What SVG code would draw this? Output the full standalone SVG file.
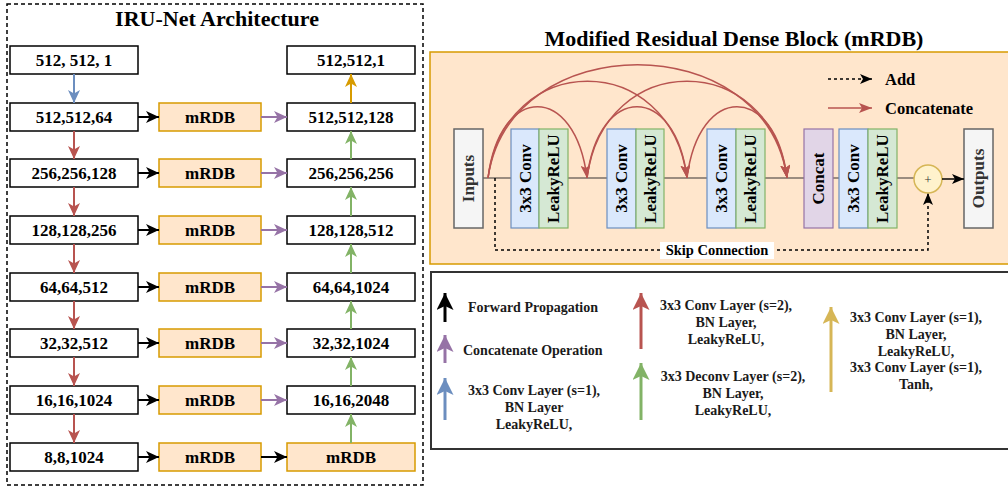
<svg xmlns="http://www.w3.org/2000/svg" width="1008" height="487" viewBox="0 0 1008 487">
  <style>
    text { font-family: "Liberation Serif", "Times New Roman", serif; font-weight: bold; fill: #000; }
    .title { font-size: 22px; text-anchor: middle; }
    .lbl { font-size: 17px; text-anchor: middle; }
    .vlbl { font-size: 17px; text-anchor: middle; dominant-baseline: central; }
    .leg { font-size: 14px; fill: #1a1a1a; }
    .legc { font-size: 14px; fill: #1a1a1a; text-anchor: middle; }
    .shape { fill: #fff; stroke: #000; stroke-width: 1.5; }
    .rdb { fill: #ffe6cc; stroke: #d79b00; stroke-width: 1.5; }
    .io { fill: #f5f5f5; stroke: #666; stroke-width: 1.5; }
    .conv { fill: #dae8fc; stroke: #6c8ebf; stroke-width: 1.2; }
    .act { fill: #d5e8d4; stroke: #82b366; stroke-width: 1.2; }
    .cat { fill: #e1d5e7; stroke: #9673a6; stroke-width: 1.2; }
    .a { fill: none; stroke-width: 2; }
    .la { fill: none; stroke-width: 3; }
    .arc { fill: none; stroke: #b85450; stroke-width: 1.5; marker-end: url(#hArc); }
  </style>
  <defs>
    <marker id="hBlue" markerUnits="userSpaceOnUse" markerWidth="13" markerHeight="12" refX="13" refY="6" orient="auto"><path d="M0,0 L13,6 L0,12 L3.5,6 Z" fill="#6c8ebf"/></marker>
    <marker id="hRed" markerUnits="userSpaceOnUse" markerWidth="13" markerHeight="12" refX="13" refY="6" orient="auto"><path d="M0,0 L13,6 L0,12 L3.5,6 Z" fill="#b85450"/></marker>
    <marker id="hBlack" markerUnits="userSpaceOnUse" markerWidth="13" markerHeight="12" refX="13" refY="6" orient="auto"><path d="M0,0 L13,6 L0,12 L3.5,6 Z" fill="#000"/></marker>
    <marker id="hPurple" markerUnits="userSpaceOnUse" markerWidth="13" markerHeight="12" refX="13" refY="6" orient="auto"><path d="M0,0 L13,6 L0,12 L3.5,6 Z" fill="#9673a6"/></marker>
    <marker id="hGreen" markerUnits="userSpaceOnUse" markerWidth="13" markerHeight="12" refX="13" refY="6" orient="auto"><path d="M0,0 L13,6 L0,12 L3.5,6 Z" fill="#82b366"/></marker>
    <marker id="hOrange" markerUnits="userSpaceOnUse" markerWidth="13" markerHeight="12" refX="13" refY="6" orient="auto"><path d="M0,0 L13,6 L0,12 L3.5,6 Z" fill="#d79b00"/></marker>
    <marker id="hArc" markerUnits="userSpaceOnUse" markerWidth="13" markerHeight="10" refX="13" refY="5" orient="auto"><path d="M0,0 L13,5 L0,10 L3,5 Z" fill="#b85450"/></marker>
    <marker id="hSmall" markerUnits="userSpaceOnUse" markerWidth="12" markerHeight="10" refX="12" refY="5" orient="auto"><path d="M0,0 L12,5 L0,10 L3,5 Z" fill="#000"/></marker>
    <marker id="lBlack" markerUnits="userSpaceOnUse" markerWidth="17" markerHeight="17" refX="17" refY="8.5" orient="auto"><path d="M0,0 L17,8.5 L0,17 L4,8.5 Z" fill="#000"/></marker>
    <marker id="lPurple" markerUnits="userSpaceOnUse" markerWidth="17" markerHeight="17" refX="17" refY="8.5" orient="auto"><path d="M0,0 L17,8.5 L0,17 L4,8.5 Z" fill="#9673a6"/></marker>
    <marker id="lBlue" markerUnits="userSpaceOnUse" markerWidth="17" markerHeight="17" refX="17" refY="8.5" orient="auto"><path d="M0,0 L17,8.5 L0,17 L4,8.5 Z" fill="#6c8ebf"/></marker>
    <marker id="lRed" markerUnits="userSpaceOnUse" markerWidth="17" markerHeight="17" refX="17" refY="8.5" orient="auto"><path d="M0,0 L17,8.5 L0,17 L4,8.5 Z" fill="#b85450"/></marker>
    <marker id="lGreen" markerUnits="userSpaceOnUse" markerWidth="17" markerHeight="17" refX="17" refY="8.5" orient="auto"><path d="M0,0 L17,8.5 L0,17 L4,8.5 Z" fill="#82b366"/></marker>
    <marker id="lYellow" markerUnits="userSpaceOnUse" markerWidth="17" markerHeight="17" refX="17" refY="8.5" orient="auto"><path d="M0,0 L17,8.5 L0,17 L4,8.5 Z" fill="#d6b656"/></marker>
  </defs>

  <rect width="1008" height="487" fill="#fff"/>

  <!-- ============ IRU-Net architecture (left panel) ============ -->
  <rect x="7" y="4" width="416" height="481" fill="none" stroke="#000" stroke-width="1.5" stroke-dasharray="4,3"/>
  <text class="title" x="217" y="26">IRU-Net Architecture</text>

  <!-- encoder column -->
  <g id="enc0"><rect class="shape" x="10" y="46" width="128" height="28"/><text class="lbl" x="74" y="66">512, 512, 1</text></g>
  <g id="enc1"><rect class="shape" x="10" y="103" width="128" height="28"/><text class="lbl" x="74" y="123">512,512,64</text></g>
  <g id="enc2"><rect class="shape" x="10" y="159" width="128" height="28"/><text class="lbl" x="74" y="179">256,256,128</text></g>
  <g id="enc3"><rect class="shape" x="10" y="216" width="128" height="28"/><text class="lbl" x="74" y="236">128,128,256</text></g>
  <g id="enc4"><rect class="shape" x="10" y="273" width="128" height="28"/><text class="lbl" x="74" y="293">64,64,512</text></g>
  <g id="enc5"><rect class="shape" x="10" y="329" width="128" height="28"/><text class="lbl" x="74" y="349">32,32,512</text></g>
  <g id="enc6"><rect class="shape" x="10" y="386" width="128" height="28"/><text class="lbl" x="74" y="406">16,16,1024</text></g>
  <g id="enc7"><rect class="shape" x="10" y="443" width="128" height="28"/><text class="lbl" x="74" y="463">8,8,1024</text></g>

  <!-- mRDB column -->
  <g id="rdb1"><rect class="rdb" x="159" y="103" width="102" height="28"/><text class="lbl" x="210" y="123">mRDB</text></g>
  <g id="rdb2"><rect class="rdb" x="159" y="159" width="102" height="28"/><text class="lbl" x="210" y="179">mRDB</text></g>
  <g id="rdb3"><rect class="rdb" x="159" y="216" width="102" height="28"/><text class="lbl" x="210" y="236">mRDB</text></g>
  <g id="rdb4"><rect class="rdb" x="159" y="273" width="102" height="28"/><text class="lbl" x="210" y="293">mRDB</text></g>
  <g id="rdb5"><rect class="rdb" x="159" y="329" width="102" height="28"/><text class="lbl" x="210" y="349">mRDB</text></g>
  <g id="rdb6"><rect class="rdb" x="159" y="386" width="102" height="28"/><text class="lbl" x="210" y="406">mRDB</text></g>
  <g id="rdb7"><rect class="rdb" x="159" y="443" width="102" height="28"/><text class="lbl" x="210" y="463">mRDB</text></g>

  <!-- decoder column -->
  <g id="dec0"><rect class="shape" x="287" y="46" width="128" height="28"/><text class="lbl" x="351" y="66">512,512,1</text></g>
  <g id="dec1"><rect class="shape" x="287" y="103" width="128" height="28"/><text class="lbl" x="351" y="123">512,512,128</text></g>
  <g id="dec2"><rect class="shape" x="287" y="159" width="128" height="28"/><text class="lbl" x="351" y="179">256,256,256</text></g>
  <g id="dec3"><rect class="shape" x="287" y="216" width="128" height="28"/><text class="lbl" x="351" y="236">128,128,512</text></g>
  <g id="dec4"><rect class="shape" x="287" y="273" width="128" height="28"/><text class="lbl" x="351" y="293">64,64,1024</text></g>
  <g id="dec5"><rect class="shape" x="287" y="329" width="128" height="28"/><text class="lbl" x="351" y="349">32,32,1024</text></g>
  <g id="dec6"><rect class="shape" x="287" y="386" width="128" height="28"/><text class="lbl" x="351" y="406">16,16,2048</text></g>
  <g id="dec7"><rect class="rdb" x="287" y="443" width="128" height="28"/><text class="lbl" x="351" y="463">mRDB</text></g>

  <g id="connectors">
    <!-- downsampling path -->
    <line class="a" stroke="#6c8ebf" x1="74" y1="74" x2="74" y2="103" marker-end="url(#hBlue)"/>
    <line class="a" stroke="#b85450" x1="74" y1="131" x2="74" y2="159" marker-end="url(#hRed)"/>
    <line class="a" stroke="#b85450" x1="74" y1="187" x2="74" y2="216" marker-end="url(#hRed)"/>
    <line class="a" stroke="#b85450" x1="74" y1="244" x2="74" y2="273" marker-end="url(#hRed)"/>
    <line class="a" stroke="#b85450" x1="74" y1="301" x2="74" y2="329" marker-end="url(#hRed)"/>
    <line class="a" stroke="#b85450" x1="74" y1="357" x2="74" y2="386" marker-end="url(#hRed)"/>
    <line class="a" stroke="#b85450" x1="74" y1="414" x2="74" y2="443" marker-end="url(#hRed)"/>
    <!-- encoder to mRDB -->
    <line class="a" stroke="#000" x1="138" y1="117" x2="159" y2="117" marker-end="url(#hBlack)"/>
    <line class="a" stroke="#000" x1="138" y1="173" x2="159" y2="173" marker-end="url(#hBlack)"/>
    <line class="a" stroke="#000" x1="138" y1="230" x2="159" y2="230" marker-end="url(#hBlack)"/>
    <line class="a" stroke="#000" x1="138" y1="287" x2="159" y2="287" marker-end="url(#hBlack)"/>
    <line class="a" stroke="#000" x1="138" y1="343" x2="159" y2="343" marker-end="url(#hBlack)"/>
    <line class="a" stroke="#000" x1="138" y1="400" x2="159" y2="400" marker-end="url(#hBlack)"/>
    <line class="a" stroke="#000" x1="138" y1="457" x2="159" y2="457" marker-end="url(#hBlack)"/>
    <!-- mRDB to decoder -->
    <line class="a" stroke="#9673a6" x1="261" y1="117" x2="287" y2="117" marker-end="url(#hPurple)"/>
    <line class="a" stroke="#9673a6" x1="261" y1="173" x2="287" y2="173" marker-end="url(#hPurple)"/>
    <line class="a" stroke="#9673a6" x1="261" y1="230" x2="287" y2="230" marker-end="url(#hPurple)"/>
    <line class="a" stroke="#9673a6" x1="261" y1="287" x2="287" y2="287" marker-end="url(#hPurple)"/>
    <line class="a" stroke="#9673a6" x1="261" y1="343" x2="287" y2="343" marker-end="url(#hPurple)"/>
    <line class="a" stroke="#9673a6" x1="261" y1="400" x2="287" y2="400" marker-end="url(#hPurple)"/>
    <line class="a" stroke="#000" x1="261" y1="457" x2="287" y2="457" marker-end="url(#hBlack)"/>
    <!-- upsampling path -->
    <line class="a" stroke="#82b366" x1="351" y1="443" x2="351" y2="414" marker-end="url(#hGreen)"/>
    <line class="a" stroke="#82b366" x1="351" y1="386" x2="351" y2="357" marker-end="url(#hGreen)"/>
    <line class="a" stroke="#82b366" x1="351" y1="329" x2="351" y2="301" marker-end="url(#hGreen)"/>
    <line class="a" stroke="#82b366" x1="351" y1="273" x2="351" y2="244" marker-end="url(#hGreen)"/>
    <line class="a" stroke="#82b366" x1="351" y1="216" x2="351" y2="187" marker-end="url(#hGreen)"/>
    <line class="a" stroke="#82b366" x1="351" y1="159" x2="351" y2="131" marker-end="url(#hGreen)"/>
    <line class="a" stroke="#d79b00" x1="351" y1="103" x2="351" y2="74" marker-end="url(#hOrange)"/>
  </g>

  <!-- ============ Modified Residual Dense Block (right panel) ============ -->
  <text class="title" x="734" y="46">Modified Residual Dense Block (mRDB)</text>
  <rect x="430" y="52" width="590" height="212" fill="#ffe6cc" stroke="#d79b00" stroke-width="1.5"/>

  <!-- main data path -->
  <line x1="483" y1="178" x2="914" y2="178" stroke="#7a6e66" stroke-width="1.5"/>

  <g id="inputs"><rect class="io" x="454" y="129" width="29" height="99"/><text class="vlbl" fill="#333" transform="translate(468.5,178.5) rotate(-90)" style="fill:#333">Inputs</text></g>
  <g id="block1">
    <rect class="conv" x="511" y="129" width="28" height="99"/><text class="vlbl" transform="translate(525,178.5) rotate(-90)">3x3 Conv</text>
    <rect class="act" x="539" y="129" width="29" height="99"/><text class="vlbl" transform="translate(553.5,178.5) rotate(-90)">LeakyReLU</text>
  </g>
  <g id="block2">
    <rect class="conv" x="607" y="129" width="29" height="99"/><text class="vlbl" transform="translate(621.5,178.5) rotate(-90)">3x3 Conv</text>
    <rect class="act" x="636" y="129" width="28" height="99"/><text class="vlbl" transform="translate(650,178.5) rotate(-90)">LeakyReLU</text>
  </g>
  <g id="block3">
    <rect class="conv" x="707" y="129" width="29" height="99"/><text class="vlbl" transform="translate(721.5,178.5) rotate(-90)">3x3 Conv</text>
    <rect class="act" x="736" y="129" width="29" height="99"/><text class="vlbl" transform="translate(750.5,178.5) rotate(-90)">LeakyReLU</text>
  </g>
  <g id="concat"><rect class="cat" x="804" y="129" width="29" height="99"/><text class="vlbl" transform="translate(818.5,178.5) rotate(-90)">Concat</text></g>
  <g id="block4">
    <rect class="conv" x="839" y="129" width="29" height="99"/><text class="vlbl" transform="translate(853.5,178.5) rotate(-90)">3x3 Conv</text>
    <rect class="act" x="868" y="129" width="29" height="99"/><text class="vlbl" transform="translate(882.5,178.5) rotate(-90)">LeakyReLU</text>
  </g>
  <g id="add"><circle cx="928" cy="179" r="14" fill="#fff2cc" stroke="#d6b656" stroke-width="1.5"/><text x="928" y="183.5" style="font-size:13px;font-weight:normal;text-anchor:middle;fill:#333">+</text></g>
  <g id="outputs"><rect class="io" x="964" y="129" width="29" height="99"/><text class="vlbl" transform="translate(978.5,178.5) rotate(-90)" style="fill:#333">Outputs</text></g>

  <g id="dense-connectors">
    <path class="arc" d="M488,178 C500,83 575,83 587,178"/>
    <path class="arc" d="M488,178 C505,49 670,49 687,178"/>
    <path class="arc" d="M488,178 C510,27 765,27 787,178"/>
    <path class="arc" d="M587,178 C599,83 675,83 687,178"/>
    <path class="arc" d="M587,178 C604,49 770,49 787,178"/>
    <path class="arc" d="M687,178 C699,83 775,83 787,178"/>
    <!-- residual skip -->
    <path d="M495,178 L495,250 L928,250 L928,193" fill="none" stroke="#000" stroke-width="1.5" stroke-dasharray="3,3" marker-end="url(#hSmall)"/>
    <line x1="942" y1="179" x2="964" y2="179" stroke="#000" stroke-width="1.5" marker-end="url(#hSmall)"/>
  </g>
  <rect x="660" y="242" width="114" height="17" fill="#fff"/>
  <text x="717" y="255" style="font-size:14.5px;text-anchor:middle">Skip Connection</text>

  <!-- key for the block -->
  <line x1="828" y1="79" x2="872" y2="79" stroke="#000" stroke-width="1.5" stroke-dasharray="3,3" marker-end="url(#hSmall)"/>
  <text x="885" y="85" style="font-size:16.5px">Add</text>
  <line x1="828" y1="108" x2="872" y2="108" stroke="#b85450" stroke-width="1.5" marker-end="url(#hArc)"/>
  <text x="885" y="114" style="font-size:16.5px">Concatenate</text>

  <!-- ============ legend ============ -->
  <rect x="431" y="272" width="590" height="177" fill="#fff" stroke="#333" stroke-width="2"/>

  <line class="la" stroke="#000" x1="445" y1="322" x2="445" y2="293" marker-end="url(#lBlack)"/>
  <text class="leg" x="468" y="312">Forward Propagation</text>

  <line class="la" stroke="#9673a6" x1="445" y1="363" x2="445" y2="335" marker-end="url(#lPurple)"/>
  <text class="leg" x="463" y="355">Concatenate Operation</text>

  <line class="la" stroke="#6c8ebf" x1="445" y1="420" x2="445" y2="378" marker-end="url(#lBlue)"/>
  <text class="legc" x="534" y="395">3x3 Conv Layer (s=1),</text>
  <text class="legc" x="534" y="412">BN Layer</text>
  <text class="legc" x="534" y="429">LeakyReLU,</text>

  <line class="la" stroke="#b85450" x1="641" y1="349" x2="641" y2="293" marker-end="url(#lRed)"/>
  <text class="legc" x="726" y="310">3x3 Conv Layer (s=2),</text>
  <text class="legc" x="726" y="327">BN Layer,</text>
  <text class="legc" x="726" y="344">LeakyReLU,</text>

  <line class="la" stroke="#82b366" x1="641" y1="420" x2="641" y2="363" marker-end="url(#lGreen)"/>
  <text class="legc" x="733" y="381">3x3 Deconv Layer (s=2),</text>
  <text class="legc" x="733" y="398">BN Layer,</text>
  <text class="legc" x="733" y="415">LeakyReLU,</text>

  <line class="la" stroke="#d6b656" x1="831" y1="392" x2="831" y2="307" marker-end="url(#lYellow)"/>
  <text class="legc" x="916" y="322">3x3 Conv Layer (s=1),</text>
  <text class="legc" x="916" y="339">BN Layer,</text>
  <text class="legc" x="916" y="356">LeakyReLU,</text>
  <text class="legc" x="916" y="372">3x3 Conv Layer (s=1),</text>
  <text class="legc" x="916" y="389">Tanh,</text>
</svg>
